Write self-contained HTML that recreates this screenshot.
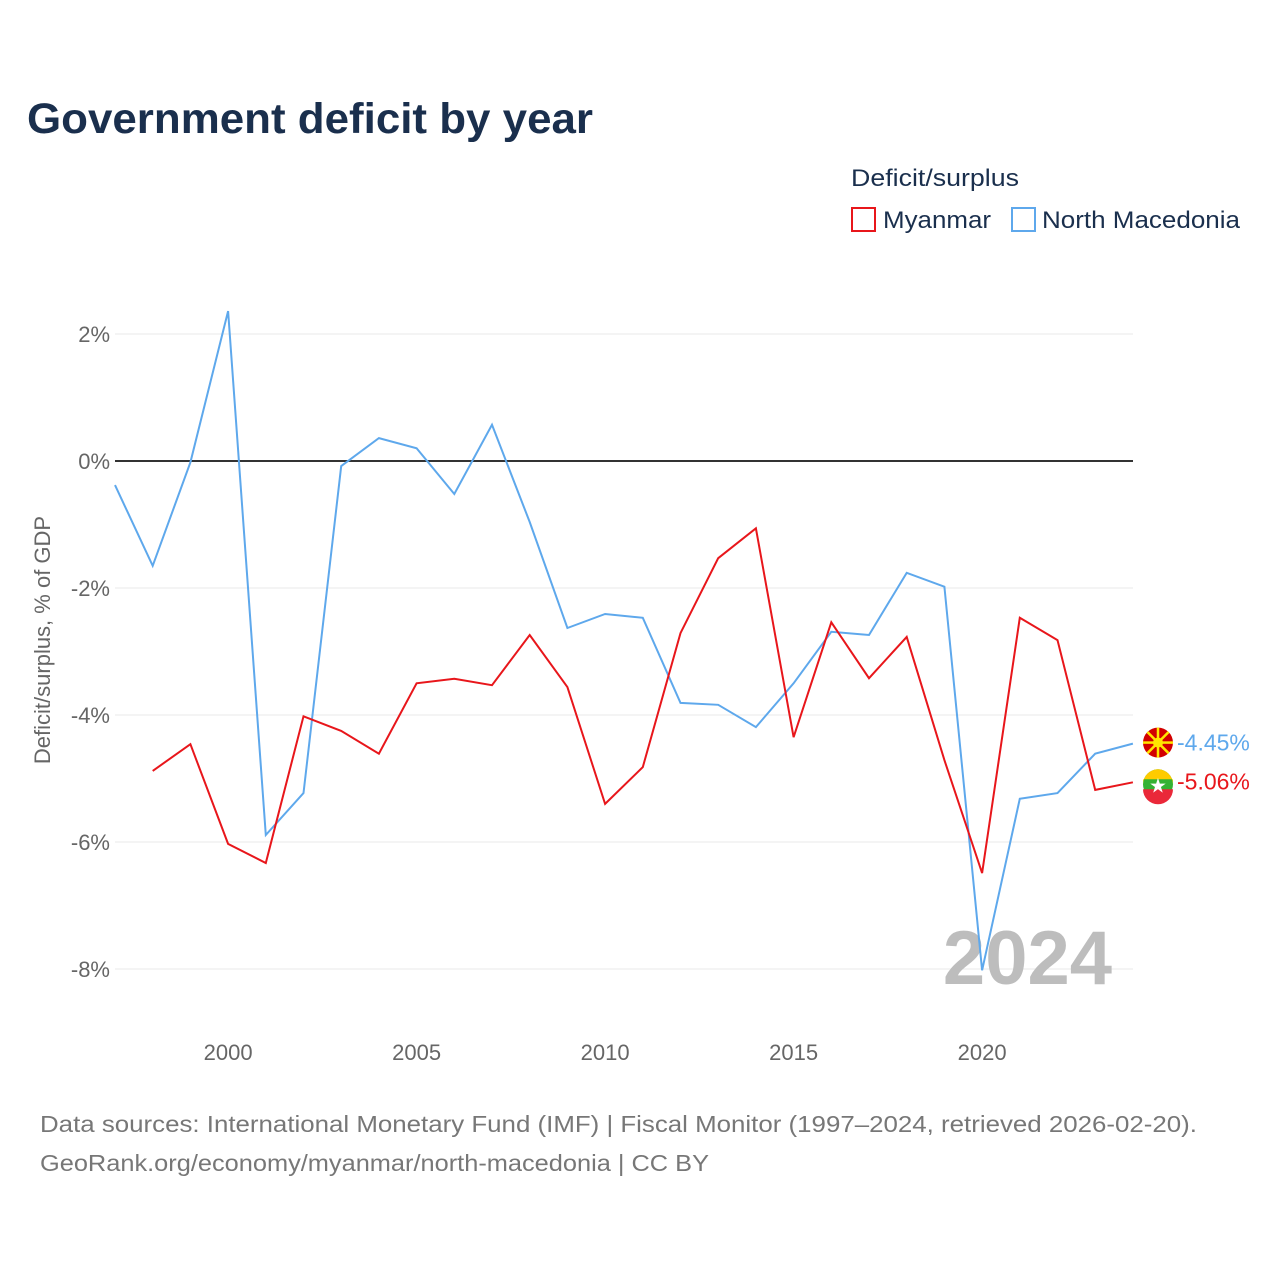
<!DOCTYPE html>
<html><head><meta charset="utf-8">
<style>
body{margin:0;background:#fff;font-family:"Liberation Sans",sans-serif;}
svg text{font-family:"Liberation Sans",sans-serif;}
</style></head>
<body>
<svg id="chart" width="1280" height="1280" xmlns="http://www.w3.org/2000/svg">
<rect width="1280" height="1280" fill="#fff"/>
<text x="27" y="133" font-size="43" font-weight="bold" fill="#1a2f4d" textLength="566" lengthAdjust="spacingAndGlyphs">Government deficit by year</text>
<text x="851" y="186" font-size="24" fill="#1a2f4d" textLength="168" lengthAdjust="spacingAndGlyphs">Deficit/surplus</text>
<g>
<rect x="852" y="208" width="23" height="23" fill="none" stroke="#e8161b" stroke-width="2"/>
<text x="883" y="228" font-size="24" fill="#1a2f4d" textLength="108" lengthAdjust="spacingAndGlyphs">Myanmar</text></g>
<g>
<rect x="1012" y="208" width="23" height="23" fill="none" stroke="#5ea8ec" stroke-width="2"/>
<text x="1042" y="228" font-size="24" fill="#1a2f4d" textLength="198" lengthAdjust="spacingAndGlyphs">North Macedonia</text></g>
<g id="grid"></g>
<text transform="translate(50,640) rotate(-90)" text-anchor="middle" font-size="22" fill="#666">Deficit/surplus, % of GDP</text>
<text x="1112" y="984" text-anchor="end" font-size="76" font-weight="bold" fill="#bdbdbd">2024</text>
<g id="series"></g>
<text x="40" y="1132" font-size="23" fill="#777" textLength="1157" lengthAdjust="spacingAndGlyphs">Data sources: International Monetary Fund (IMF) | Fiscal Monitor (1997–2024, retrieved 2026-02-20).</text>
<text x="40" y="1171" font-size="23" fill="#777" textLength="669" lengthAdjust="spacingAndGlyphs">GeoRank.org/economy/myanmar/north-macedonia | CC BY</text>
</svg>
<script>
const years=[1997,1998,1999,2000,2001,2002,2003,2004,2005,2006,2007,2008,2009,2010,2011,2012,2013,2014,2015,2016,2017,2018,2019,2020,2021,2022,2023,2024];
const macedonia=[-0.38,-1.65,-0.02,2.36,-5.89,-5.23,-0.08,0.36,0.2,-0.52,0.57,-0.96,-2.63,-2.41,-2.47,-3.81,-3.84,-4.19,-3.5,-2.69,-2.74,-1.76,-1.98,-8.02,-5.32,-5.23,-4.61,-4.45];
const myanmar=[null,-4.88,-4.46,-6.03,-6.33,-4.02,-4.25,-4.61,-3.5,-3.43,-3.53,-2.74,-3.56,-5.4,-4.82,-2.71,-1.53,-1.06,-4.35,-2.54,-3.42,-2.77,-4.71,-6.49,-2.47,-2.82,-5.18,-5.06];
const yTicks=[2,0,-2,-4,-6,-8];
const xTicks=[2000,2005,2010,2015,2020];
const NS='http://www.w3.org/2000/svg';
const X=y=>115+(y-1997)*37.7;
const Y=v=>461-v*63.5;
const grid=document.getElementById('grid'),ser=document.getElementById('series');
function mk(tag,attrs,parent){const e=document.createElementNS(NS,tag);for(const k in attrs)e.setAttribute(k,attrs[k]);parent.appendChild(e);return e;}
yTicks.forEach(t=>{
 const l=mk('line',{x1:115,x2:1133,y1:Y(t),y2:Y(t),stroke:t===0?'#333':'#e8e8e8','stroke-width':t===0?2:1},grid);
 
 
 const tx=mk('text',{x:110,y:Y(t)+8,'text-anchor':'end','font-size':22,fill:'#666'},grid);
 tx.textContent=t+'%';
 
 
});
xTicks.forEach(t=>{
 const tx=mk('text',{x:X(t),y:1060,'text-anchor':'middle','font-size':22,fill:'#666'},grid);
 tx.textContent=t;
 
 
});
function line(vals,color,name){
 const pts=[];vals.forEach((v,i)=>{if(v!==null)pts.push(X(years[i]).toFixed(1)+','+Y(v).toFixed(1));});
 const p=mk('polyline',{points:pts.join(' '),fill:'none',stroke:color,'stroke-width':2},ser);
 
 
}
line(macedonia,'#5ea8ec','north-macedonia-line');
line(myanmar,'#e8161b','myanmar-line');
function endLabel(vals,color,name,flag){
 const v=vals[vals.length-1];let y=Y(v);
 const g=mk('g',{},ser);
 
 
 if(flag==='mk'){mk('circle',{cx:1158,cy:y-1,r:15,fill:'#d20000'},g);mk('circle',{cx:1158,cy:y-1,r:5,fill:'#ffe600'},g);
  for(let a=0;a<8;a++){const r=a*Math.PI/4;mk('line',{x1:1158,y1:y-1,x2:1158+15*Math.cos(r),y2:y-1+15*Math.sin(r),stroke:'#ffe600','stroke-width':2.5},g);}}
 else{mk('circle',{cx:1158,cy:y+2,r:15,fill:'#34b233'},g);mk('path',{d:`M1143,${y+2} a15,15 0 0 1 30,0 v-5 h-30z`,fill:'#fecb00'},g);mk('path',{d:`M1143,${y+7} h30 a15,15 0 0 1 -30,0z`,fill:'#ea2839'},g);
  mk('text',{x:1158,y:y+10,'text-anchor':'middle','font-size':20,fill:'#fff'},g).textContent='★';}
 const t=mk('text',{x:1177,y:y+7,'font-size':23,fill:color},g);t.textContent=v.toFixed(2)+'%';
}
endLabel(macedonia,'#5ea8ec','north-macedonia-end-label','mk');
endLabel(myanmar,'#e8161b','myanmar-end-label','mm');
</script>
</body></html>
